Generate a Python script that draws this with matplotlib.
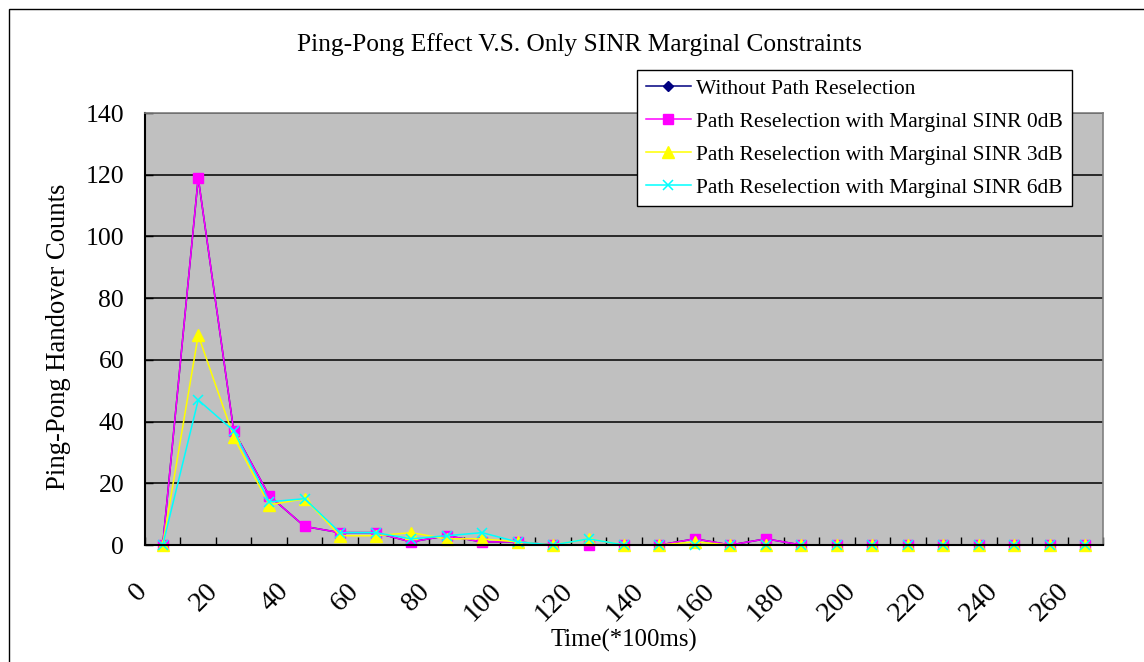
import matplotlib.pyplot as plt
import matplotlib.transforms as mtrans
from matplotlib.patches import Rectangle
import numpy as np

plt.rcParams['font.family'] = ['Liberation Serif', 'DejaVu Serif']

# time categories (*100ms)
time_cats = list(range(0, 270, 10))

no_reselect = [0, 119, 37, 16, 6, 4, 4, 1, 3, 1, 1, 0, 0, 0, 0, 2, 0, 2, 0, 0, 0, 0, 0, 0, 0, 0, 0]
sinr_0db = [0, 119, 37, 16, 6, 4, 4, 1, 3, 1, 1, 0, 0, 0, 0, 2, 0, 2, 0, 0, 0, 0, 0, 0, 0, 0, 0]
sinr_3db = [0, 68, 35, 13, 15, 3, 3, 4, 2, 2, 1, 0, 2, 0, 0, 1, 0, 0, 0, 0, 0, 0, 0, 0, 0, 0, 0]
sinr_6db = [0, 47, 37, 14, 15, 4, 4, 2, 3, 4, 1, 0, 2, 0, 0, 0, 0, 0, 0, 0, 0, 0, 0, 0, 0, 0, 0]

labels = ['Without Path Reselection',
          'Path Reselection with Marginal SINR 0dB',
          'Path Reselection with Marginal SINR 3dB',
          'Path Reselection with Marginal SINR 6dB']

fig = plt.figure(figsize=(11.44, 6.62), dpi=100)
ax = fig.add_axes([145 / 1144, 1 - 545 / 662, 958 / 1144, 432 / 662])
ax.set_facecolor('#c0c0c0')

x = np.arange(len(time_cats))
ax.plot(x, no_reselect, color='#000080', marker='D', markersize=5, lw=1.1, label=labels[0], clip_on=False)
ax.plot(x, sinr_0db, color='#ff00ff', marker='s', markersize=7, lw=1.1, label=labels[1], clip_on=False)
ax.plot(x, sinr_3db, color='#ffff00', marker='^', markersize=8, lw=1.1, label=labels[2], clip_on=False)
ax.plot(x, sinr_6db, color='#00ffff', marker='x', markersize=7, mew=1.1, lw=1.1, label=labels[3], clip_on=False)

ax.set_xlim(-0.5, len(time_cats) - 0.5)
ax.set_ylim(0, 140)
ax.set_yticks(range(0, 141, 20))
ax.yaxis.grid(True, color='black', lw=1.1)
ax.set_axisbelow(True)

# category labels on every other category, tick marks between categories
ax.set_xticks(x[::2])
ax.set_xticklabels([str(t) for t in time_cats[::2]], rotation=45, ha='right', va='top', fontsize=20.5)
ax.set_xticks(np.arange(-0.5, len(time_cats), 1), minor=True)
ax.tick_params(axis='x', which='major', length=0, pad=24)
ax.tick_params(axis='x', which='minor', direction='in', length=6, width=1, color='black')
ax.tick_params(axis='y', direction='in', length=6, width=1, labelsize=18.5, pad=15)
shift = mtrans.ScaledTranslation(-0.11, 0, fig.dpi_scale_trans)
for lbl in ax.get_xticklabels():
    lbl.set_transform(lbl.get_transform() + shift)

for s in ['left', 'bottom']:
    ax.spines[s].set_color('black')
    ax.spines[s].set_linewidth(1.5)
for s in ['top', 'right']:
    ax.spines[s].set_color('#808080')
    ax.spines[s].set_linewidth(1.2)

fig.text(579 / 1144, 1 - 45 / 662, 'Ping-Pong Effect V.S. Only SINR Marginal Constraints',
         ha='center', va='center', fontsize=18.3)
fig.text(624 / 1144, 1 - 640 / 662, 'Time(*100ms)', ha='center', va='center', fontsize=17.8)
fig.text(59 / 1144, 1 - 337 / 662, 'Ping-Pong Handover Counts', ha='center', va='center',
         rotation=90, fontsize=19.2)

leg = ax.legend(loc='upper left', bbox_to_anchor=(637 / 1144, 1 - 70 / 662),
                bbox_transform=fig.transFigure, borderaxespad=0, fontsize=15.5,
                numpoints=1, handlelength=2.1, handletextpad=0.25, labelspacing=0.6,
                borderpad=0.4, fancybox=False, framealpha=1)
leg.get_frame().set_edgecolor('black')
leg.get_frame().set_linewidth(1)

fig.add_artist(Rectangle((9 / 1144, -0.2), 1.2, 1.2 - 9 / 662, transform=fig.transFigure,
                         fill=False, edgecolor='black', lw=1, clip_on=False))

fig.savefig('out.png', dpi=100)
